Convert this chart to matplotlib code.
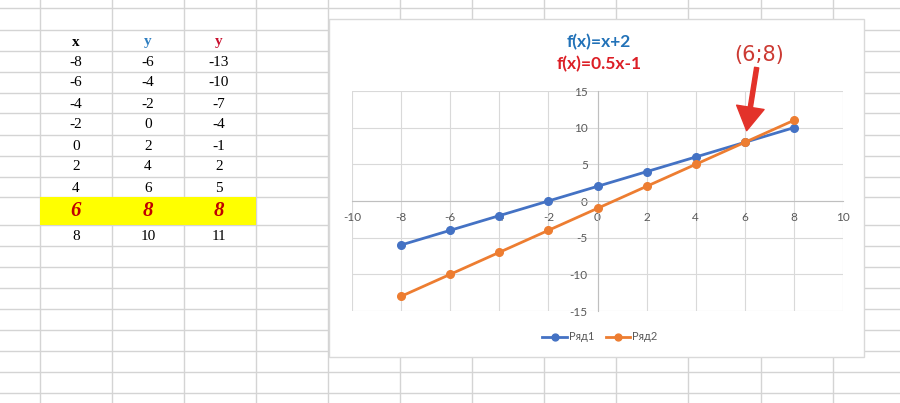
import matplotlib
matplotlib.use("Agg")
import matplotlib.pyplot as plt
from matplotlib.patches import Rectangle

x_vals = [-8, -6, -4, -2, 0, 2, 4, 6, 8]
y1_vals = [-6, -4, -2, 0, 2, 4, 6, 8, 10]
y2_vals = [-13, -10, -7, -4, -1, 2, 5, 8, 11]
header = ["x", "y", "y"]
series_names = ["Ряд1", "Ряд2"]
title_lines = ["f(x)=x+2", "f(x)=0.5x-1"]
x_ticks = list(range(-10, 11, 2))
y_ticks = list(range(-15, 16, 5))
cross_idx = 7  # row where both lines meet (highlighted in the sheet)

plt.rcParams["axes.unicode_minus"] = False

W, H = 900, 403
fig = plt.figure(figsize=(9, 4.03), dpi=100)

# ---- spreadsheet background, pixel coords ----
bg = fig.add_axes([0, 0, 1, 1])
bg.set_xlim(0, W)
bg.set_ylim(H, 0)
bg.axis("off")

sheet_grid = "#d4d4d4"
row_lines = [8, 29.5, 50.5, 72, 92.5, 113, 134.5, 155.5, 176.5, 197, 224.5,
             245.5, 266.5, 287.5, 308.5, 329.5, 350.5, 372, 393]
col_lines = [39.5 + 72.1 * k for k in range(13)]
for yy in row_lines:
    bg.axhline(yy, color=sheet_grid, lw=1, zorder=1)
for xx in col_lines:
    bg.axvline(xx, color=sheet_grid, lw=1, zorder=1)

# yellow highlighted row
bg.add_patch(Rectangle((col_lines[0], 197), col_lines[3] - col_lines[0], 27.5,
                       fc="#ffff00", ec="none", zorder=2))

col_x = [76, 148, 219]
head_colors = ["black", "#2f7fc1", "#c8102e"]
for cx, txt, c in zip(col_x, header, head_colors):
    bg.text(cx, 42, txt, ha="center", va="center", fontsize=11, fontweight="bold",
            color=c, family="Liberation Serif", zorder=3)

row_y = [62, 83, 104, 125, 146, 167, 188, 211, 236]
for i, ry in enumerate(row_y):
    vals = [x_vals[i], y1_vals[i], y2_vals[i]]
    for cx, v in zip(col_x, vals):
        if i == cross_idx:
            bg.text(cx, ry, str(v), ha="center", va="center", fontsize=15,
                    fontweight="bold", fontstyle="italic", color="#c00000",
                    family="Liberation Serif", zorder=3)
        else:
            bg.text(cx, ry, str(v), ha="center", va="center", fontsize=11,
                    color="black", family="Liberation Serif", zorder=3)

# chart area box
bg.add_patch(Rectangle((329, 19), 535, 338, fc="white", ec="#d9d9d9", lw=1, zorder=4))

# ---- chart ----
ax = fig.add_axes([352 / W, (H - 311) / H, 491 / W, 220 / H])
ax.patch.set_alpha(0)
ax.set_xlim(-10, 10)
ax.set_ylim(-15, 15)
ax.set_xticks(x_ticks)
ax.set_yticks(y_ticks)
ax.grid(True, color="#d9d9d9", lw=0.8)
ax.set_axisbelow(True)
for ln in ax.get_xgridlines() + ax.get_ygridlines():
    ln.set_clip_on(False)
for s in ["top", "right"]:
    ax.spines[s].set_visible(False)
ax.spines["left"].set_position(("data", 0))
ax.spines["bottom"].set_position(("data", 0))
for s in ["left", "bottom"]:
    ax.spines[s].set_color("#bfbfbf")
    ax.spines[s].set_linewidth(0.8)
ax.tick_params(length=0, labelsize=8.5, labelcolor="#595959")
ax.tick_params(axis="x", pad=8)
ax.tick_params(axis="y", pad=7)
for lab in ax.get_xticklabels() + ax.get_yticklabels():
    lab.set_family("Lato")

ax.plot(x_vals, y1_vals, color="#4472c4", lw=2, marker="o", ms=5.5,
        label=series_names[0], clip_on=False, zorder=3)
ax.plot(x_vals, y2_vals, color="#ed7d31", lw=2, marker="o", ms=5.5,
        label=series_names[1], clip_on=False, zorder=3)

fig.text(599 / W, 1 - 42 / H, title_lines[0], ha="center", va="center", fontsize=12.5,
         fontweight="bold", color="#2272b8", family="Lato")
fig.text(599 / W, 1 - 64 / H, title_lines[1], ha="center", va="center", fontsize=12.5,
         fontweight="bold", color="#dc1f26", family="Lato")

fig.legend(loc="center", bbox_to_anchor=(600 / W, 1 - 337 / H), ncol=2, frameon=False,
           prop={"family": "Lato", "size": 8}, labelcolor="#595959", handlelength=2.2,
           columnspacing=1.0, handletextpad=0.2, markerscale=0.9)

px, py = x_vals[cross_idx], y2_vals[cross_idx]
ax.annotate(f"({px};{py})", xy=(px, py), xytext=(10, 63), textcoords="offset points",
            ha="center", va="center", fontsize=15, color="#cc3a33", family="DejaVu Sans",
            arrowprops=dict(arrowstyle="simple,head_length=17,head_width=20,tail_width=3",
                            mutation_scale=1, color="#e3322a", shrinkA=0, shrinkB=8.5),
            annotation_clip=False, zorder=5)

fig.savefig("out.png", dpi=100)
